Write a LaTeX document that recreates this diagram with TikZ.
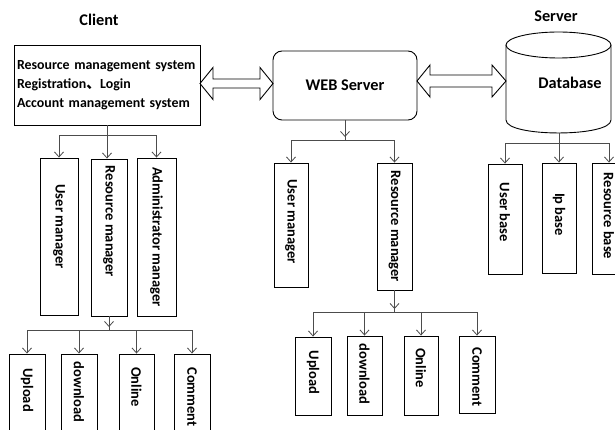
\documentclass[tikz,border=0pt]{standalone}
\usepackage{fontspec}
\setmainfont{Carlito}
\newfontfamily\cjk{Noto Sans CJK SC}
\usetikzlibrary{arrows.meta,calc}
\begin{document}
\begin{tikzpicture}[x=1pt,y=-1pt,
  box/.style={draw=black, line width=0.9pt, fill=white, inner sep=0pt},
  vlab/.style={rotate=-90, font=\fontsize{14.5}{17}\selectfont\bfseries, inner sep=0pt},
  conn/.style={draw=black!70, line width=0.8pt},
  arr/.style={conn, -{Straight Barb[length=5pt,width=9pt]}},
  head/.style={font=\fontsize{16.3}{19}\selectfont\bfseries},
  blockarr/.style={draw=black, line width=0.9pt, fill=white, line join=miter}]
\useasboundingbox (0,0) rectangle (615,430);
\clip (0,0) rectangle (615,430);

% titles
\node[head] (tclient) at (99,20) {Client};
\node[head] (tserver) at (556,16) {Server};

% client box
\node[box, minimum width=186pt, minimum height=80pt, align=left, text width=180pt,
      font=\fontsize{13.9}{19}\selectfont\bfseries] (client) at (107,85)
  {Resource management system\\Registration{\cjk 、}Login\\Account management system};

% web server
\node[box, rounded corners=9pt, minimum width=144pt, minimum height=69pt, head] (web) at (345,85.5) {WEB Server};

% database cylinder
\draw[box] (506,45) -- (506,120) .. controls (506,137.3) and (611,137.3) .. (611,120) -- (611,45);
\draw[box] (558.5,45) ellipse [x radius=52.5, y radius=13];
\coordinate (dbb) at (559,133);
\node[head] (db) at (570,83) {Database};

% double block arrows
\draw[blockarr] (200,83.5) -- (213,67.5) -- (213,79) -- (260,79) -- (260,67.5) -- (273,83.5)
  -- (260,99.5) -- (260,88) -- (213,88) -- (213,99.5) -- cycle;
\draw[blockarr] (417,81) -- (430,65) -- (430,75) -- (492,75) -- (492,65) -- (506,81)
  -- (492,97) -- (492,87) -- (430,87) -- (430,97) -- cycle;

% client children
\node[box, minimum width=38pt, minimum height=157pt, label={[yshift=10pt,vlab]center:User manager}] (cu) at (59,236.5) {};
\node[box, minimum width=36pt, minimum height=157pt, label={[yshift=16pt,vlab]center:Resource manager}] (cr) at (109,237.5) {};
\node[box, minimum width=39pt, minimum height=158pt, label={[vlab]center:Administrator manager}] (ca) at (156.5,237) {};

% client resource children
\node[box, minimum width=36pt, minimum height=100pt, label={[yshift=14pt,vlab]center:Upload}] (lu) at (27,404) {};
\node[box, minimum width=36pt, minimum height=100pt, label={[yshift=12pt,vlab]center:download}] (ld) at (79,404) {};
\node[box, minimum width=35pt, minimum height=100pt, label={[yshift=17pt,vlab]center:Online}] (lo) at (136.5,404) {};
\node[box, minimum width=36pt, minimum height=100pt, label={[yshift=7pt,vlab]center:Comment}] (lc) at (192,404) {};

% web children
\node[box, minimum width=34pt, minimum height=124pt, label={[yshift=3.5pt,vlab]center:User manager}] (wu) at (291,225) {};
\node[box, minimum width=35pt, minimum height=127pt, label={[vlab]center:Resource manager}] (wr) at (394.5,226.5) {};

\node[box, minimum width=36pt, minimum height=78pt, label={[yshift=3.5pt,vlab]center:Upload}] (wbu) at (313,376) {};
\node[box, minimum width=35pt, minimum height=79pt, label={[yshift=1.5pt,vlab]center:download}] (wbd) at (364.5,375.5) {};
\node[box, minimum width=34pt, minimum height=79pt, label={[yshift=7.5pt,vlab]center:Online}] (wbo) at (421,375.5) {};
\node[box, minimum width=36pt, minimum height=77pt, label={[yshift=-2.5pt,vlab]center:Comment}] (wbc) at (477,374.5) {};

% database children
\node[box, minimum width=34pt, minimum height=110pt, label={[yshift=6.5pt,vlab]center:User base}] (ub) at (505,219) {};
\node[box, minimum width=34pt, minimum height=110pt, label={[yshift=3.5pt,vlab]center:Ip base}] (ib) at (559,218) {};
\node[box, minimum width=34pt, minimum height=111pt, label={[yshift=2.5pt,vlab]center:Resource base}] (rb) at (609,218.5) {};

% junctions
\coordinate (j1) at (107,135);
\coordinate (j3) at (109,330);
\coordinate (j2) at (345,140);
\coordinate (j4) at (394.5,312);
\coordinate (j5) at (559,143);

% client connectors
\draw[conn] (client.south) -- (j1);
\draw[arr] (j1) -| (cu.north);
\draw[arr] (j1) -- (j1 |- cr.north);
\draw[arr] (j1) -| (ca.north);

\draw[conn] (cr.south) -- (j3);
\draw[arr] (cr.south) -- ($(j3)+(0,-3)$);
\draw[arr] (j3) -| (lu.north);
\draw[arr] (j3) -| (ld.north);
\draw[arr] (j3) -| (lo.north);
\draw[arr] (j3) -| (lc.north);

% web connectors
\draw[conn] (web.south) -- (j2);
\draw[arr] (web.south) -- ($(j2)+(0,-3)$);
\draw[arr] (j2) -| (wu.north);
\draw[arr] (j2) -| (wr.north);

\draw[conn] (wr.south) -- (j4);
\draw[arr] (wr.south) -- ($(j4)+(0,-3)$);
\draw[arr] (j4) -| (wbu.north);
\draw[arr] (j4) -| (wbd.north);
\draw[arr] (j4) -| (wbo.north);
\draw[arr] (j4) -| (wbc.north);

% database connectors
\draw[conn] (dbb) -- (j5);
\draw[arr] (j5) -| (ub.north);
\draw[arr] (j5) -- (ib.north);
\draw[arr] (j5) -| (rb.north);
\end{tikzpicture}
\end{document}
